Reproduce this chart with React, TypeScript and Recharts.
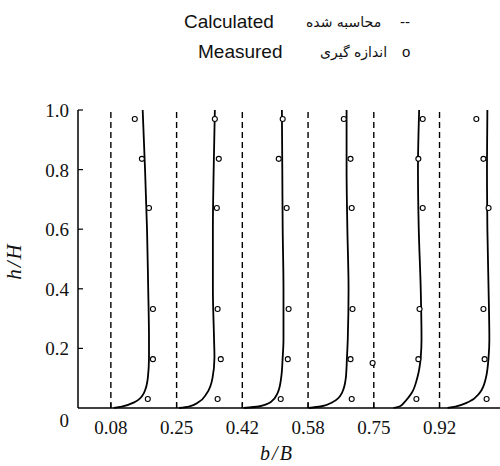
import React from "react";
import {
  ComposedChart,
  Line,
  Scatter,
  ReferenceLine,
  XAxis,
  YAxis,
} from "recharts";

// section positions (b/B) and their tick labels
const sections = [1 / 12, 3 / 12, 5 / 12, 7 / 12, 9 / 12, 11 / 12];
const sectionLabels = ["0.08", "0.25", "0.42", "0.58", "0.75", "0.92"];
const yTicks = [0, 0.2, 0.4, 0.6, 0.8, 1.0];
const yTickLabels = ["0", "0.2", "0.4", "0.6", "0.8", "1.0"];

// calculated profiles: shared h/H levels, b/B per profile
const calcH = [0, 0.005, 0.02, 0.05, 0.1, 0.17, 0.23, 0.4, 0.6, 0.8, 1.0];
const calc1 = [0.091, 0.111, 0.144, 0.167, 0.177, 0.18, 0.18, 0.178, 0.175, 0.17, 0.164];
const calc2 = [0.256, 0.281, 0.306, 0.327, 0.341, 0.346, 0.345, 0.342, 0.342, 0.344, 0.347];
const calc3 = [0.42, 0.458, 0.489, 0.506, 0.515, 0.519, 0.521, 0.521, 0.519, 0.518, 0.517];
const calc4 = [0.585, 0.615, 0.646, 0.669, 0.679, 0.682, 0.684, 0.686, 0.683, 0.681, 0.681];
const calc5 = [0.8, 0.815, 0.828, 0.846, 0.86, 0.869, 0.871, 0.869, 0.864, 0.862, 0.865];
const calc6 = [0.937, 0.957, 0.99, 1.018, 1.034, 1.041, 1.043, 1.041, 1.038, 1.037, 1.038];

// measured points: shared h/H levels, b/B per profile
const measH = [0.97, 0.836, 0.671, 0.332, 0.164, 0.03];
const meas1 = [0.144, 0.162, 0.18, 0.19, 0.19, 0.177];
const meas2 = [0.347, 0.357, 0.352, 0.354, 0.362, 0.354];
const meas3 = [0.519, 0.509, 0.529, 0.534, 0.532, 0.514];
const meas4 = [0.674, 0.691, 0.694, 0.696, 0.691, 0.694];
const meas5 = [0.874, 0.863, 0.874, 0.866, 0.863, 0.858];
const meas6 = [1.01, 1.028, 1.041, 1.028, 1.031, 1.036];
const extraB = [0.747];
const extraH = [0.151];

const calcProfiles = [calc1, calc2, calc3, calc4, calc5, calc6];
const measProfiles = [meas1, meas2, meas3, meas4, meas5, meas6];

const toRows = (bs: number[], hs: number[]) => bs.map((b, i) => ({ b, h: hs[i] }));

const measRows = [
  ...measProfiles.flatMap((bs) => toRows(bs, measH)),
  ...toRows(extraB, extraH),
];

const SERIF = '"Liberation Serif", "Times New Roman", serif';
const SANS = '"Liberation Sans", Arial, sans-serif';
const PERSIAN = '"DejaVu Sans", sans-serif';

function XTick(props: any) {
  const { x, y, payload } = props;
  const i = sections.indexOf(payload.value);
  return (
    <g>
      <line x1={x} y1={y} x2={x} y2={y - 5} stroke="#000" strokeWidth={1.2} />
      <text x={x} y={y + 26} textAnchor="middle" style={{ fontFamily: SERIF, fontSize: 19 }} fill="#111">
        {sectionLabels[i]}
      </text>
    </g>
  );
}

function YTick(props: any) {
  const { x, y, payload } = props;
  const i = yTicks.indexOf(payload.value);
  const isZero = payload.value === 0;
  return (
    <g>
      {!isZero && <line x1={x} y1={y} x2={x + 5} y2={y} stroke="#000" strokeWidth={1.2} />}
      <text
        x={x - 9}
        y={isZero ? y + 19 : y + 7}
        textAnchor="end"
        style={{ fontFamily: SERIF, fontSize: 19 }}
        fill="#111"
      >
        {yTickLabels[i]}
      </text>
    </g>
  );
}

const Circle = (props: any) => (
  <circle cx={props.cx} cy={props.cy} r={2.5} fill="#fff" stroke="#000" strokeWidth={1.1} />
);

export default function App() {
  return (
    <div style={{ position: "absolute", left: 0, top: 0, width: 500, height: 466, background: "#fff" }}>
      <ComposedChart
        width={500}
        height={466}
        margin={{ top: 110, right: 0, bottom: 28, left: 18 }}
      >
        <XAxis
          type="number"
          dataKey="b"
          domain={[0, 1.07]}
          ticks={sections}
          interval={0}
          tick={<XTick />}
          tickSize={0}
          tickMargin={0}
          tickLine={false}
          height={30}
          stroke="#000"
          strokeWidth={1.5}
          allowDataOverflow
        />
        <YAxis
          type="number"
          dataKey="h"
          domain={[0, 1]}
          ticks={yTicks}
          interval={0}
          tick={<YTick />}
          tickSize={0}
          tickMargin={0}
          tickLine={false}
          width={60}
          stroke="#000"
          strokeWidth={1.5}
        />
        {sections.map((s) => (
          <ReferenceLine
            key={s}
            x={s}
            stroke="#000"
            strokeWidth={1.4}
            strokeDasharray="6 4"
            ifOverflow="visible"
          />
        ))}
        {calcProfiles.map((bs, i) => (
          <Line
            key={i}
            data={toRows(bs, calcH)}
            dataKey="h"
            type="monotoneY"
            stroke="#000"
            strokeWidth={1.8}
            dot={false}
            activeDot={false}
            isAnimationActive={false}
          />
        ))}
        <Scatter data={measRows} dataKey="h" shape={<Circle />} isAnimationActive={false} />
      </ComposedChart>

      {/* legend */}
      <div style={{ position: "absolute", left: 184, top: 11, fontFamily: SANS, fontSize: 19, color: "#111" }}>
        Calculated
      </div>
      <div style={{ position: "absolute", left: 306, top: 14, fontFamily: PERSIAN, fontSize: 14, color: "#111" }}>
        محاسبه شده
      </div>
      <div style={{ position: "absolute", left: 400, top: 13, fontFamily: SANS, fontSize: 15, color: "#111" }}>
        --
      </div>
      <div style={{ position: "absolute", left: 198, top: 41, fontFamily: SANS, fontSize: 19, color: "#111" }}>
        Measured
      </div>
      <div style={{ position: "absolute", left: 320, top: 44, fontFamily: PERSIAN, fontSize: 14, color: "#111" }}>
        اندازه گیری
      </div>
      <div style={{ position: "absolute", left: 402, top: 43, fontFamily: SANS, fontSize: 15, color: "#111" }}>
        o
      </div>

      {/* axis titles */}
      <div
        style={{
          position: "absolute",
          left: 14,
          top: 261,
          transform: "translate(-50%, -50%) rotate(-90deg)",
          fontFamily: SERIF,
          fontStyle: "italic",
          fontSize: 21,
          letterSpacing: 2,
          whiteSpace: "nowrap",
          color: "#111",
        }}
      >
        h/H
      </div>
      <div
        style={{
          position: "absolute",
          left: 277,
          top: 442,
          transform: "translateX(-50%)",
          fontFamily: SERIF,
          fontStyle: "italic",
          fontSize: 20,
          lineHeight: "22px",
          letterSpacing: 2,
          whiteSpace: "nowrap",
          color: "#111",
        }}
      >
        b/B
      </div>
    </div>
  );
}
